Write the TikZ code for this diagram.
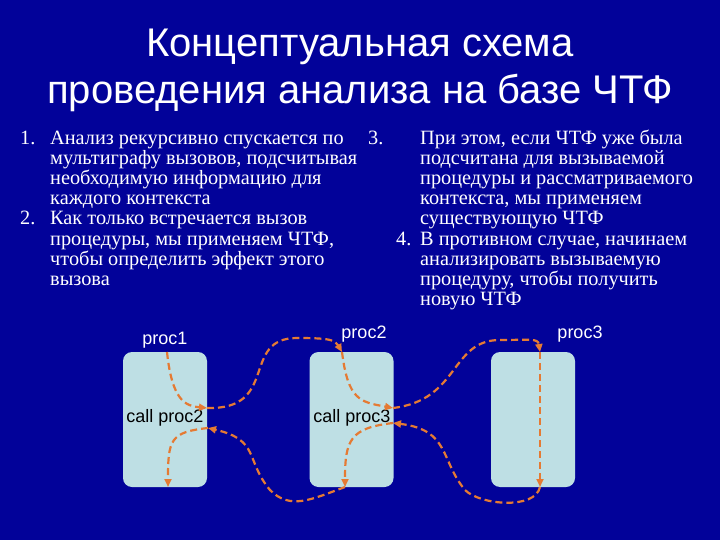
\documentclass[tikz,border=0pt]{standalone}
\usepackage{fontspec}
\setmainfont{Liberation Serif}
\newfontfamily\arial{Liberation Sans}
\usetikzlibrary{arrows.meta}
\definecolor{bg}{HTML}{020299}
\definecolor{boxc}{HTML}{BEDFE4}
\definecolor{arr}{HTML}{E57A33}
\begin{document}
\begin{tikzpicture}[x=1pt,y=-1pt,
  ttl/.style={text=white,font=\arial\fontsize{40}{44}\selectfont,inner sep=0},
  txt/.style={text=white,font=\fontsize{20.3}{22}\selectfont,anchor=base west,inner sep=0},
  proc/.style={draw=none,fill=boxc,rounded corners=9pt,minimum width=84pt,minimum height=135pt,inner sep=0},
  lab/.style={font=\arial\fontsize{18}{20}\selectfont,inner sep=0},
  flow/.style={arr,line width=2.2pt,dash pattern=on 7pt off 4pt,-{Triangle[length=8pt,width=7pt]}}]
\fill[bg] (0,0) rectangle (720,540);
\node[ttl] (t1) at (360,47) {Концептуальная схема};
\node[ttl] (t2) at (360,93) {проведения анализа на базе ЧТФ};
% left text
\node[txt] (n1) at (20,145) {1.};
\node[txt] (l1) at (50,145) {Анализ рекурсивно спускается по};
\node[txt] (l2) at (50,165) {мультиграфу вызовов, подсчитывая};
\node[txt] (l3) at (50,185) {необходимую информацию для};
\node[txt] (l4) at (50,205) {каждого контекста};
\node[txt] (n2) at (20,225) {2.};
\node[txt] (l5) at (50,225) {Как только встречается вызов};
\node[txt] (l6) at (50,245) {процедуры, мы применяем ЧТФ,};
\node[txt] (l7) at (50,265) {чтобы определить эффект этого};
\node[txt] (l8) at (50,285) {вызова};
% right text
\node[txt] (n3) at (368,145) {3.};
\node[txt] (r1) at (420,145) {При этом, если ЧТФ уже была};
\node[txt] (r2) at (420,165) {подсчитана для вызываемой};
\node[txt] (r3) at (420,185) {процедуры и рассматриваемого};
\node[txt] (r4) at (420,205) {контекста, мы применяем};
\node[txt] (r5) at (420,225) {существующую ЧТФ};
\node[txt] (n4) at (396,245) {4.};
\node[txt] (r6) at (420,245) {В противном случае, начинаем};
\node[txt] (r7) at (420,265) {анализировать вызываемую};
\node[txt] (r8) at (420,285) {процедуру, чтобы получить};
\node[txt] (r9) at (420,305) {новую ЧТФ};
% boxes
\node[proc] (b1) at (165,419.5) {};
\node[proc] (b2) at (351.5,419.5) {};
\node[proc] (b3) at (533,419.5) {};
\node[lab,text=white] (p1) at (165,340) {proc1};
\node[lab,text=white] (p2) at (364,334) {proc2};
\node[lab,text=white] (p3) at (580,334) {proc3};
\node[lab,text=black] (c2) at (165,418) {call proc2};
\node[lab,text=black] (c3) at (352,418) {call proc3};
% anchor points
\coordinate (a1) at (167,352);
\coordinate (a2) at (207,408);
\coordinate (a3) at (342,352);
\coordinate (a4) at (393,408);
\coordinate (a5) at (540,352);
\coordinate (a6) at (540,487);
\coordinate (a7) at (393,423);
\coordinate (a8) at (345,487);
\coordinate (a9) at (208,428);
\coordinate (a10) at (168,487);
\draw[flow] (a1) .. controls (172,400) and (185,406) .. (a2);
\draw[flow] (a2) .. controls (280,410) and (240,338) .. (297,338) .. controls (330,338) and (335,340) .. (a3);
\draw[flow] (a3) .. controls (348,400) and (360,402) .. (a4);
\draw[flow] (a4) .. controls (460,400) and (450,340) .. (500,340) .. controls (530,340) and (538,338) .. (a5);
\draw[flow] (a5) -- (a6);
\draw[flow] (a6) .. controls (535,510) and (480,505) .. (465,490) .. controls (440,460) and (450,430) .. (a7);
\draw[flow] (a7) .. controls (350,428) and (345,440) .. (a8);
\draw[flow] (a8) .. controls (310,500) and (290,510) .. (270,490) .. controls (245,460) and (260,440) .. (a9);
\draw[flow] (a9) .. controls (170,432) and (168,440) .. (a10);
\end{tikzpicture}
\end{document}
